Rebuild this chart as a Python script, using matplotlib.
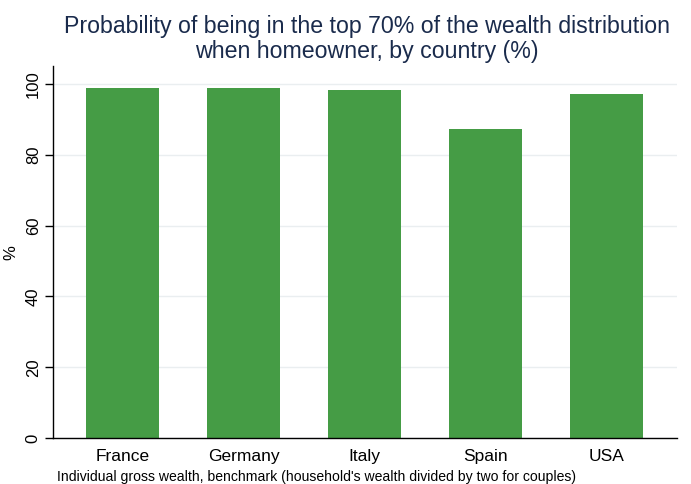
import matplotlib
matplotlib.use("Agg")
import matplotlib.pyplot as plt

countries = ["France", "Germany", "Italy", "Spain", "USA"]
values = [98.8, 98.8, 98.1, 87.2, 97.2]
yticks = [0, 20, 40, 60, 80, 100]

plt.rcParams['font.family'] = ['Liberation Sans', 'DejaVu Sans']

fig = plt.figure(figsize=(6.91, 4.84), dpi=100)
ax = fig.add_axes([53.3/691, 1-438.3/484, (677-53.3)/691, (438.3-66)/484])

x = list(range(len(countries)))
ax.bar(x, values, width=0.6, color='#459c45', zorder=2)

ax.set_xlim(-0.57, 4.58)
ax.set_ylim(0, 105)
ax.set_yticks(yticks)
ax.set_yticklabels([str(t) for t in yticks], rotation=90, va='center', fontsize=12)
ax.set_xticks(x)
ax.set_xticklabels(countries, fontsize=12.5)
ax.tick_params(axis='x', length=0, pad=8)
ax.tick_params(axis='y', length=6, width=1, pad=3, color='black')
for sp in ['top', 'right']:
    ax.spines[sp].set_visible(False)
for sp in ['left', 'bottom']:
    ax.spines[sp].set_linewidth(1)
ax.yaxis.grid(True, color='#eaeef0', linewidth=1, zorder=0)
ax.set_axisbelow(True)
ax.set_ylabel('%', fontsize=12)
ax.yaxis.set_label_coords((18 - 53.3) / (677 - 53.3), 0.5)

fig.text(367/691, 1-33/484, "Probability of being in the top 70% of the wealth distribution",
         ha='center', va='baseline', fontsize=16.7, color='#1a2b4c')
fig.text(367/691, 1-58/484, "when homeowner, by country (%)",
         ha='center', va='baseline', fontsize=16.7, color='#1a2b4c')
fig.text(57/691, 1-477/484, "Individual gross wealth, benchmark (household's wealth divided by two for couples)",
         ha='left', va='center', fontsize=10.05, color='black')

fig.savefig("out.png", dpi=100, facecolor='white')
